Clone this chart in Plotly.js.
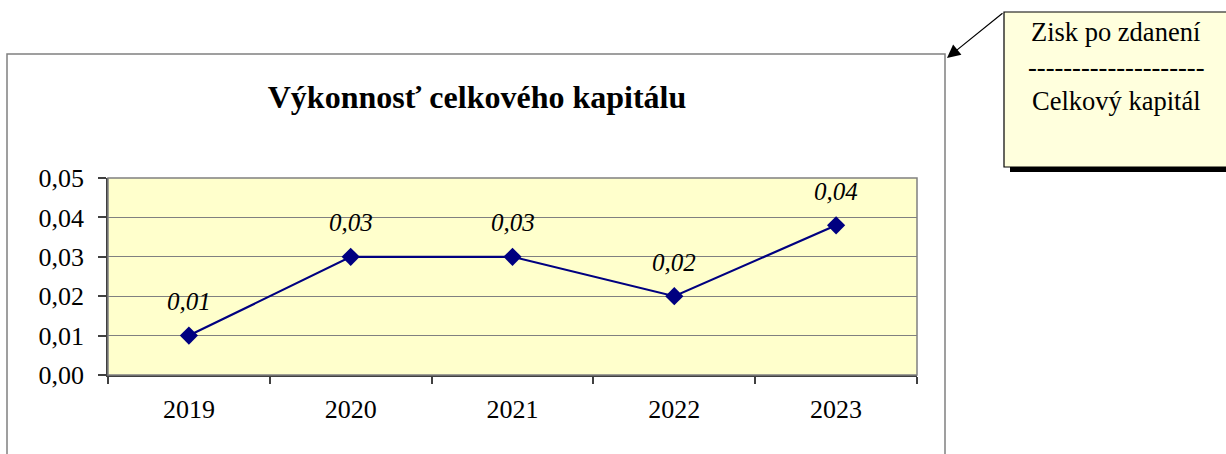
<!DOCTYPE html>
<html><head><meta charset="utf-8">
<script src="https://cdn.plot.ly/plotly-3.0.1.min.js"></script>
<style>body{margin:0;background:#fff}</style>
</head><body>
<div id="chart" style="width:1226px;height:454px"></div>
<script>
const years = ['2019','2020','2021','2022','2023'];
const values = [0.01, 0.03, 0.03, 0.02, 0.038];
const labels = ['0,01','0,03','0,03','0,02','0,04'];
const chartTitle = 'Výkonnosť celkového kapitálu';
const noteLines = ['Zisk po zdanení', '--------------------', 'Celkový kapitál'];

const W = 1226, H = 454;
const L = 108, R = 917, T = 178, B = 375;
const px = x => (x - L) / (R - L);
const py = y => (B - y) / (B - T);
const FONT = 'Liberation Serif';
const idx = years.map((_, i) => i);

const trace = {
  x: idx, y: values, type: 'scatter', mode: 'lines+markers',
  line: {color: '#000080', width: 2.2},
  marker: {symbol: 'diamond', size: 14, color: '#000080'},
  hoverinfo: 'skip'
};

const annotations = idx.map(i => ({
  x: i, y: values[i], xref: 'x', yref: 'y', text: '<i>' + labels[i] + '</i>',
  showarrow: false, yshift: 34,
  font: {family: FONT, size: 25, color: '#000'}
}));

noteLines.forEach((t, i) => {
  annotations.push({
    x: px(1116), y: py([32, 67, 101][i]), xref: 'paper', yref: 'paper',
    text: t, showarrow: false, xanchor: 'center', yanchor: 'middle',
    font: {family: FONT, size: 26.5, color: '#000'}
  });
});

annotations.push({
  x: px(947), y: py(58), xref: 'paper', yref: 'paper',
  ax: 1004 - 947, ay: 12 - 58,
  text: '', showarrow: true, arrowhead: 2, arrowsize: 2.2, arrowwidth: 1.2,
  arrowcolor: '#000', standoff: 0
});

const shapes = [
  {type: 'rect', xref: 'paper', yref: 'paper', x0: px(7), x1: px(945), y0: py(470), y1: py(54),
   line: {color: '#808080', width: 1.5}, fillcolor: 'rgba(0,0,0,0)', layer: 'below'},
  {type: 'rect', xref: 'paper', yref: 'paper', x0: px(1010), x1: px(1240), y0: py(172), y1: py(18),
   line: {width: 0}, fillcolor: '#000'},
  {type: 'rect', xref: 'paper', yref: 'paper', x0: px(1004), x1: px(1236), y0: py(167), y1: py(12),
   line: {color: '#000', width: 1.2}, fillcolor: '#FFFFDD'},
  {type: 'rect', xref: 'paper', yref: 'paper', x0: 0, x1: 1, y0: 0, y1: 1,
   line: {color: '#808080', width: 1.5}, fillcolor: 'rgba(0,0,0,0)', layer: 'above'}
];

const layout = {
  width: W, height: H,
  font: {family: FONT, size: 26, color: '#000'},
  margin: {l: L, r: W - R, t: T, b: H - B, pad: 0},
  paper_bgcolor: '#fff', plot_bgcolor: '#FFFFCC',
  separators: ', ',
  showlegend: false,
  title: {text: '<b>' + chartTitle + '</b>', x: px(477), xanchor: 'center', xref: 'paper',
          y: 1 - 97 / H, yanchor: 'middle', font: {family: FONT, size: 32, color: '#000'}},
  xaxis: {range: [-0.5, 4.5], tickmode: 'array', tickvals: idx, ticktext: years,
          showgrid: false, zeroline: false,
          showline: true, linecolor: '#404040', linewidth: 1.5,
          ticks: '', ticklabelstandoff: 10,
          minor: {tickmode: 'array', tickvals: [-0.5, 0.5, 1.5, 2.5, 3.5, 4.5],
                  ticks: 'outside', ticklen: 7, tickcolor: '#404040', tickwidth: 1.5, showgrid: false},
          tickfont: {family: FONT, size: 26, color: '#000'}},
  yaxis: {range: [0, 0.05], dtick: 0.01, tick0: 0, tickformat: '.2f',
          showgrid: true, gridcolor: '#808080', gridwidth: 1, zeroline: false,
          showline: true, linecolor: '#404040', linewidth: 1.5,
          ticks: 'outside', ticklen: 8, tickcolor: '#404040', tickwidth: 1.5,
          ticklabelstandoff: 9,
          tickfont: {family: FONT, size: 26, color: '#000'}},
  annotations: annotations,
  shapes: shapes
};

Plotly.newPlot('chart', [trace], layout, {displayModeBar: false});
</script>
</body></html>
